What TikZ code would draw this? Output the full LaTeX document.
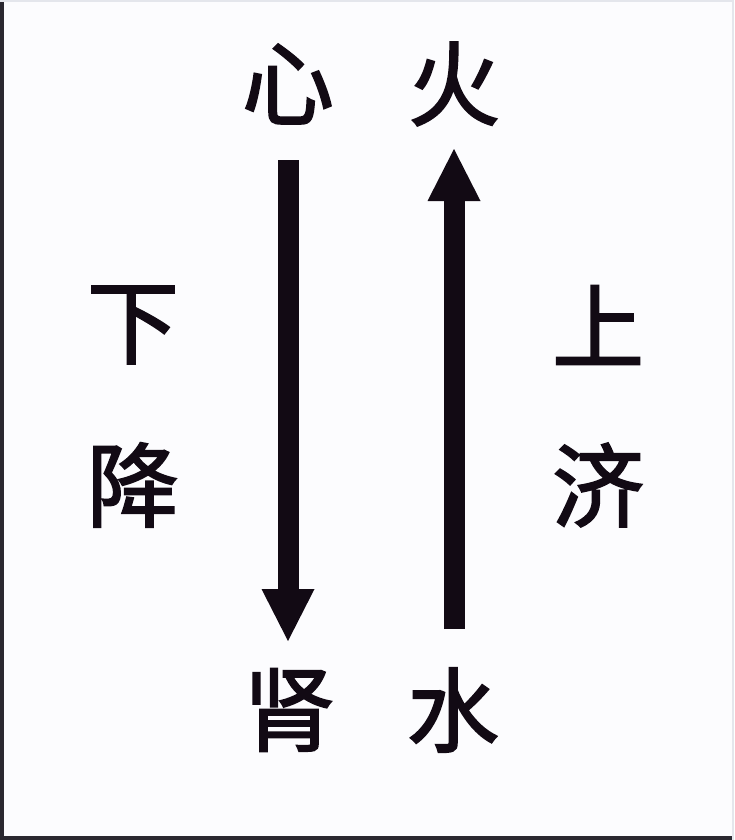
\documentclass[tikz,border=0pt]{standalone}
\usepackage{fontspec}
\newfontfamily\cjk[RawFeature={embolden=2}]{Noto Sans CJK SC}
\usetikzlibrary{arrows.meta}
\definecolor{ink}{HTML}{120A14}
\definecolor{bg}{HTML}{FCFCFE}
\definecolor{edge}{HTML}{2A2830}
\definecolor{faint}{HTML}{E4E6EC}
\begin{document}
\begin{tikzpicture}[x=1pt,y=-1pt,
  lbl/.style={font=\cjk\fontsize{92}{92}\selectfont, inner sep=0pt, text=ink},
  bigarrow/.style={line width=21pt, draw=ink, -{Triangle[length=52pt,width=53pt,line width=0pt]}}]
\fill[bg] (0,0) rectangle (734,840);
\useasboundingbox (0,0) rectangle (734,840);
\fill[edge] (0,0) rectangle (4,840);
\fill[edge] (0,836) rectangle (734,840);
\draw[faint,line width=1.5pt] (0,1) -- (734,1);
\draw[faint,line width=1.5pt] (733,0) -- (733,840);
\node[lbl] (xin) at (288,84) {心};
\node[lbl] (huo) at (454,84) {火};
\node[lbl] (shen) at (289,710) {肾};
\node[lbl] (shui) at (453,710) {水};
\node[lbl] (xia) at (133,325) {下};
\node[lbl] (jiang) at (133,485) {降};
\node[lbl] (shang) at (598,325) {上};
\node[lbl] (ji) at (598,485) {济};
\draw[bigarrow] (xin.south |- 0,160) -- (xin.south |- 0,641);
\draw[bigarrow] (huo.south |- 0,629) -- (huo.south |- 0,149);
\end{tikzpicture}
\end{document}
